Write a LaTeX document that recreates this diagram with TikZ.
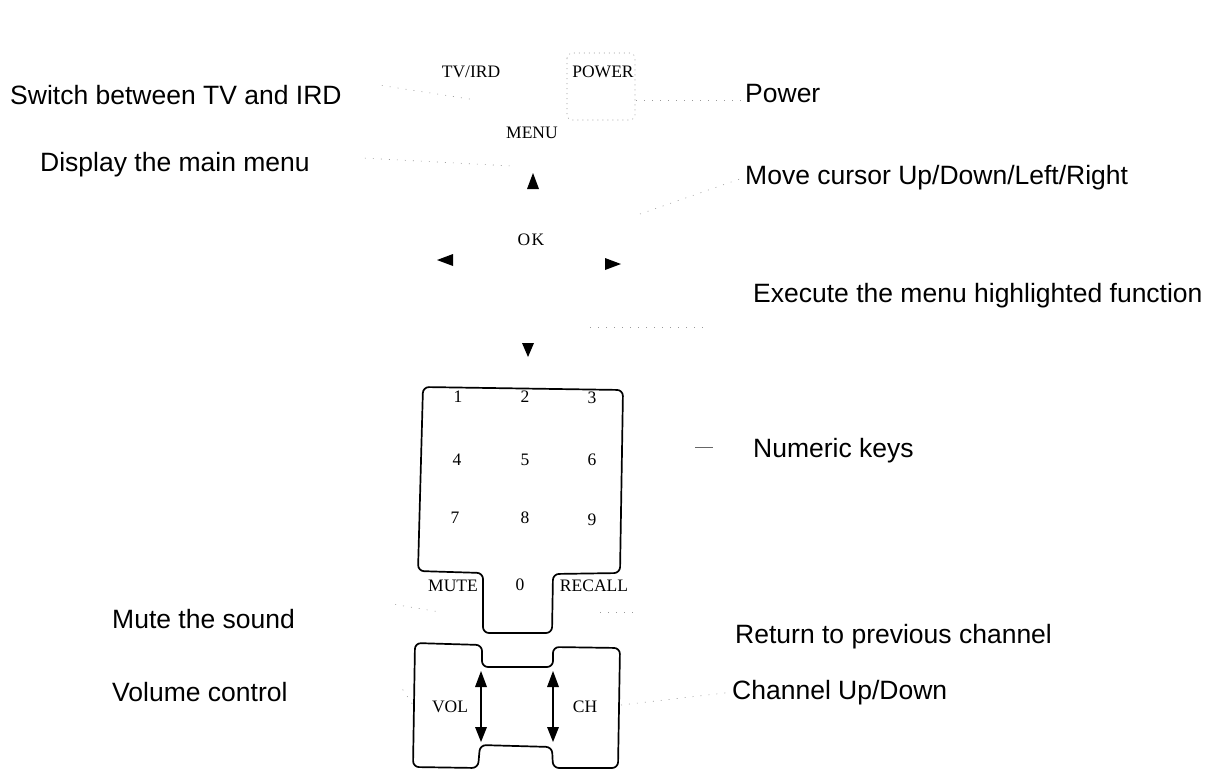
\documentclass[tikz,border=0pt]{standalone}
\usepackage{fontspec}
\setmainfont{Liberation Serif}
\newfontfamily\labfont{Liberation Sans}
\begin{document}
\begin{tikzpicture}[x=1pt,y=-1pt,
  lab/.style={font=\labfont\fontsize{26.5}{30}\selectfont, inner sep=0pt, anchor=base west},
  key/.style={font=\fontsize{17.5}{20}\selectfont, inner sep=0pt},
  outline/.style={draw=black, line width=1.7pt, rounded corners=6pt},
  leader/.style={draw=black!40, line width=0.6pt, dash pattern=on 1pt off 7pt},
  tri/.style={fill=black}]
\useasboundingbox (0,0) rectangle (1218,772);

% ---- left labels
\node[lab] (lSwitch) at (10,104) {Switch between TV and IRD};
\node[lab] (lMenu)   at (40,171) {Display the main menu};
\node[lab] (lMute)   at (112,628) {Mute the sound};
\node[lab] (lVol)    at (112,701) {Volume control};

% ---- right labels
\node[lab] (rPower)  at (745,102) {Power};
\node[lab] (rCursor) at (745,184) {Move cursor Up/Down/Left/Right};
\node[lab] (rExec)   at (753,302) {Execute the menu highlighted function};
\node[lab] (rNum)    at (753,457) {Numeric keys};
\node[lab] (rRecall) at (735,643) {Return to previous channel};
\node[lab] (rCh)     at (732,699) {Channel Up/Down};

% ---- top keys
\node[key] (kTV)    at (471,72)  {TV/IRD};
\node[key] (kPower) at (603,72)  {POWER};
\node[key] (kMenu)  at (532,133) {MENU};
\node[key] (kOK)    at (531,240) {O\kern1.5pt K};
\draw[black!40, line width=0.6pt, dash pattern=on 1pt off 4pt, rounded corners=5pt]
  (567,53) rectangle (635,120);

% cursor triangles
\fill[tri] (527,189) -- (539,189) -- (533,173) -- cycle;
\fill[tri] (453,254) -- (453,266) -- (437,260) -- cycle;
\fill[tri] (605,258) -- (605,270) -- (621,264) -- cycle;
\fill[tri] (522,343) -- (534,343) -- (528,357) -- cycle;

% ---- numeric pad
\draw[outline] (423,387) -- (623,390) -- (620,573) -- (553,574) -- (552,633)
  -- (483,633) -- (483,573) -- (418,571) -- cycle;
\node[key] (k1) at (458,397) {1};
\node[key] (k2) at (525,397) {2};
\node[key] (k3) at (592,398) {3};
\node[key] (k4) at (457,460) {4};
\node[key] (k5) at (525,460) {5};
\node[key] (k6) at (592,460) {6};
\node[key] (k7) at (455,518) {7};
\node[key] (k8) at (525,518) {8};
\node[key] (k9) at (592,520) {9};
\node[key] (kMute)   at (453,586) {MUTE};
\node[key] (k0)      at (520,585) {0};
\node[key] (kRecall) at (594,586) {RECALL};

% ---- VOL / CH block
\draw[outline] (415,643) -- (482,645) -- (482,667) -- (553,667) -- (553,647)
  -- (620,648) -- (618,768) -- (553,768) -- (552,747) -- (480,745)
  -- (478,768) -- (413,767) -- cycle;
\node[key] (kVol) at (450,707) {VOL};
\node[key] (kCh)  at (585,707) {CH};
\fill[tri] (475,687) -- (487,687) -- (481,671) -- cycle;
\fill[tri] (475,727) -- (487,727) -- (481,742) -- cycle;
\draw[line width=1.3pt] (481,687) -- (481,727);
\fill[tri] (547,687) -- (559,687) -- (553,671) -- cycle;
\fill[tri] (547,727) -- (559,727) -- (553,742) -- cycle;
\draw[line width=1.3pt] (553,687) -- (553,727);

% ---- leader lines (faint)
\coordinate (pTV) at (476,100);
\coordinate (pPow) at (636,100);
\coordinate (pMenu) at (512,166);
\coordinate (pCur) at (640,214);
\coordinate (pExecA) at (590,327);
\coordinate (pExecB) at (705,327);
\coordinate (pNum) at (660,447);
\coordinate (pMute) at (440,612);
\coordinate (pRec) at (600,612);
\coordinate (pVol) at (413,705);
\coordinate (pCh) at (621,705);
\draw[leader] (lSwitch.east) ++(40,-9) -- (pTV);
\draw[leader] (pPow) -- (rPower.west|-pPow);
\draw[leader] (lMenu.east) ++(55,-6) -- (pMenu);
\draw[leader] (pCur) -- (rCursor.west);
\draw[leader] (pExecA) -- (pExecB);
\draw[line width=0.6pt, black!60] (695,447) -- (713,447);
\draw[leader] (lMute.east) ++(100,-14) -- (pMute);
\draw[leader] (pRec) -- (640,612);
\draw[leader] (lVol.east) ++(115,-2) -- (pVol);
\draw[leader] (pCh) -- (rCh.west);
\end{tikzpicture}
\end{document}
